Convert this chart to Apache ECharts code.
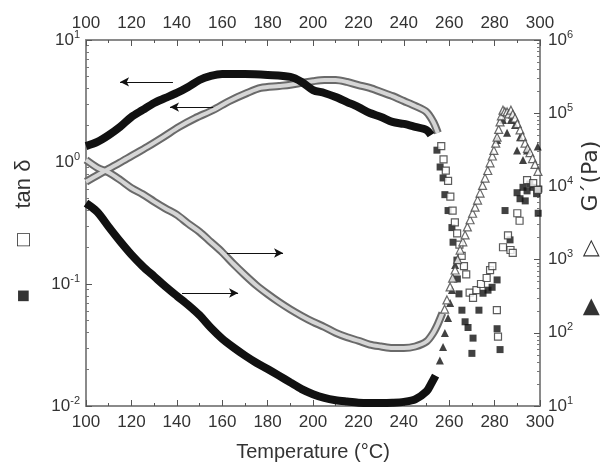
<!DOCTYPE html>
<html>
<head>
<meta charset="UTF-8">
<title>tan delta and G' vs temperature</title>
<script src="https://cdn.jsdelivr.net/npm/echarts@6/dist/echarts.min.js"></script>
</head>
<body style="margin:0">
<div id="main" style="width:600px;height:471px;"></div>
<script type="text/javascript">
// x ticks (temperature, degC)
var xTicks = [100, 120, 140, 160, 180, 200, 220, 240, 260, 280, 300];

// tan delta, filled squares: dense part (drawn as a thick band)
var tanFilledCurve = [
  [100, 1.35], [105, 1.46], [110, 1.66], [115, 1.94], [120, 2.34], [125, 2.67],
  [130, 3.05], [135, 3.35], [140, 3.68], [145, 4.12], [150, 4.7], [155, 5.07],
  [160, 5.26], [170, 5.26], [180, 5.17], [190, 4.98], [195, 4.53], [200, 3.89],
  [205, 3.68], [210, 3.41], [215, 3.10], [220, 2.82], [225, 2.52], [230, 2.34],
  [235, 2.13], [240, 2.05], [245, 1.94], [250, 1.83], [252, 1.66]
];
// tan delta, filled squares: scattered part
var tanFilledPts = [
  [254.6, 1.25], [256, 0.91], [257.3, 0.74], [258.1, 0.54], [259.5, 0.40], [261.2, 0.29],
  [261.7, 0.22], [263.4, 0.157], [263.6, 0.11], [264.3, 0.083], [265.6, 0.061], [267, 0.049],
  [268.3, 0.044], [270.5, 0.036], [270, 0.027], [273.1, 0.061], [274.9, 0.084], [277.1, 0.089],
  [278.9, 0.094], [281.1, 0.108], [281.1, 0.043], [282.4, 0.029], [284.6, 0.40], [286.8, 0.23],
  [289.9, 0.56], [291.2, 0.50], [292.5, 0.62], [294.3, 0.58], [295.5, 0.66], [296.9, 0.62],
  [298.5, 0.55], [299.5, 0.60], [299.2, 0.38], [293.5, 0.48]
];
// tan delta, open squares: dense part
var tanOpenCurve = [
  [100, 0.69], [105, 0.78], [110, 0.88], [115, 0.99], [120, 1.12], [127, 1.33],
  [134, 1.60], [141, 1.94], [148, 2.28], [156, 2.67], [163, 3.15], [171, 3.68],
  [177, 4.05], [185, 4.2], [190, 4.3], [195, 4.45], [200, 4.6], [205, 4.7],
  [210, 4.7], [215, 4.53], [220, 4.27], [225, 4.05], [230, 3.75], [235, 3.47],
  [240, 3.16], [245, 2.88], [250, 2.57], [253, 2.13], [255, 1.73]
];
// tan delta, open squares: scattered part
var tanOpenPts = [
  [256.5, 1.35], [257.5, 1.05], [258.5, 0.85], [259.5, 0.70], [260.5, 0.52], [261.5, 0.40],
  [262.5, 0.32], [263.5, 0.26], [264.5, 0.21], [265.5, 0.17], [266.5, 0.14], [267.5, 0.12],
  [269, 0.085], [270.5, 0.077], [272, 0.089], [274, 0.10], [276.5, 0.112], [278, 0.13],
  [279, 0.14], [281, 0.061], [281.5, 0.037], [283.7, 0.20], [285.9, 0.25], [287, 0.19],
  [288, 0.18], [290, 0.38], [291, 0.33], [294.3, 0.71], [297, 0.67], [299, 0.59]
];

// G' (Pa), open triangles: dense part
var gOpenCurve = [
  [100, 23000], [105, 18000], [110, 15500], [115, 12300], [120, 9500], [125, 7800],
  [130, 6200], [135, 5000], [140, 4100], [145, 3100], [150, 2400], [155, 1740],
  [160, 1260], [165, 870], [170, 617], [175, 447], [180, 339], [185, 263],
  [190, 209], [195, 170], [200, 141], [205, 120], [210, 100], [215, 87],
  [220, 78], [225, 69], [230, 65], [235, 62], [240, 62], [245, 65],
  [250, 76], [253, 100], [255, 132], [257, 186]
];
// G' (Pa), open triangles: scattered part
var gOpenPts = [
  [258, 210], [259, 281], [260.4, 423], [261.5, 560], [262.6, 721], [263.7, 1000],
  [264.8, 1350], [266, 1750], [267, 2170], [268, 2800], [269.2, 3500], [270.3, 4300],
  [271.4, 5200], [272.5, 6500], [273.6, 8100], [274.7, 10300], [275.8, 13000], [277, 16500],
  [278, 21000], [279, 26000], [279.7, 31000], [280.5, 39000], [281.1, 47000], [281.8, 60000],
  [282.4, 76000], [283, 92000], [283.7, 110000], [284.5, 105000], [285.5, 104000], [286.3, 98000],
  [287.2, 110000], [288, 97000], [289, 86000], [290, 72000], [291.2, 59000], [292.3, 48000],
  [293.4, 39000], [294.5, 33000], [295.6, 29000], [296.7, 24000], [297.8, 20000], [299.1, 16000]
];
// G' (Pa), filled triangles: dense part
var gFilledCurve = [
  [100, 5900], [105, 4470], [110, 2800], [115, 1780], [120, 1170], [125, 810],
  [130, 590], [135, 430], [140, 320], [145, 240], [150, 174], [155, 117],
  [160, 83], [165, 63], [170, 49], [175, 39], [180, 32], [185, 26],
  [190, 21], [195, 17], [200, 14.5], [205, 12.9], [210, 12], [215, 11.5],
  [220, 11.1], [225, 11], [230, 11], [235, 11.1], [240, 11.4], [245, 12.3],
  [250, 15.8], [252, 20], [254, 26]
];
// G' (Pa), filled triangles: scattered part
var gFilledPts = [
  [255.9, 42], [257.3, 64], [258.1, 99], [259.5, 159], [260.4, 255], [261.2, 385],
  [261.7, 561], [262.6, 843], [281.1, 43000], [283.7, 81000], [285.5, 54000], [287.2, 81000],
  [289, 69000], [289.9, 31000], [291.2, 47000], [292.5, 23000], [294.3, 31000], [299, 35000]
];

// annotation arrows [from, to], in data units of their own axis
var tanArrows = [[[138.3, 4.53], [115, 4.53]], [[156, 2.82], [137, 2.82]]];
var gArrows = [[[162.1, 1230], [186.8, 1230]], [[142.3, 350], [167, 350]]];

var myChart = echarts.init(document.getElementById('main'));

var txt = '#333';
var lineCol = '#8a8a8a';

function powLabel(v) {
  var e = Math.round(Math.log10(v));
  return '10{s|' + e + '}';
}
var supRich = { s: { fontSize: 11, padding: [0, 0, 11, 0], color: txt, fontFamily: 'Liberation Sans' } };

function arrowData(list) {
  return list.map(function (a) {
    return [{ coord: a[0] }, { coord: a[1] }];
  });
}
var arrowMark = function (list) {
  return {
    silent: true,
    symbol: ['none', 'arrow'],
    symbolSize: [7, 9],
    label: { show: false },
    lineStyle: { color: '#111', width: 1, type: 'solid' },
    emphasis: { disabled: true },
    animation: false,
    data: arrowData(list)
  };
};

var xBase = {
  type: 'value', min: 100, max: 300, interval: 20,
  axisLine: { lineStyle: { color: lineCol, width: 2 } },
  axisTick: { inside: true, length: 6, lineStyle: { color: '#555' } },
  minorTick: { show: true, splitNumber: 2, length: 3, lineStyle: { color: '#555' } },
  splitLine: { show: false },
  axisLabel: { color: txt, fontSize: 17, fontFamily: 'Liberation Sans', margin: 8 }
};

option = {
  animation: false,
  grid: { left: 86, right: 60, top: 40, bottom: 65, containLabel: false, outerBoundsMode: 'none' },
  xAxis: [
    echarts.util.merge({
      position: 'bottom',
      name: 'Temperature (\u00b0C)', nameLocation: 'middle', nameGap: 36,
      nameTextStyle: { color: txt, fontSize: 20, fontFamily: 'Liberation Sans' }
    }, xBase),
    echarts.util.merge({ position: 'top' }, xBase)
  ],
  yAxis: [
    {
      type: 'log', logBase: 10, min: 0.01, max: 10, position: 'left',
      name: '\u25a0       \u25a1    tan \u03b4', nameLocation: 'middle', nameGap: 51,
      nameTextStyle: { color: txt, fontSize: 22, fontFamily: 'Liberation Sans', padding: [0, 16, 0, 0] },
      axisLine: { show: true, lineStyle: { color: lineCol, width: 2 } },
      axisTick: { inside: true, length: 6, lineStyle: { color: '#555' } },
      minorTick: { show: true, splitNumber: 9, length: 3, lineStyle: { color: '#777' } },
      splitLine: { show: false },
      axisLabel: { formatter: powLabel, rich: supRich, color: txt, fontSize: 17, fontFamily: 'Liberation Sans', margin: 6 }
    },
    {
      type: 'log', logBase: 10, min: 10, max: 1000000, position: 'right',
      name: '\u25b6      \u25b7    G\u00b4(Pa)', nameLocation: 'middle', nameGap: 40, nameRotate: 90,
      nameMoveOverlap: false,
      nameTextStyle: { color: txt, fontSize: 22, fontFamily: 'DejaVu Sans', padding: [0, 10, 0, 0] },
      axisLine: { show: true, lineStyle: { color: lineCol, width: 2 } },
      axisTick: { inside: true, length: 6, lineStyle: { color: '#555' } },
      minorTick: { show: true, splitNumber: 9, length: 3, lineStyle: { color: '#777' } },
      splitLine: { show: false },
      axisLabel: { formatter: powLabel, rich: supRich, color: txt, fontSize: 17, fontFamily: 'Liberation Sans', margin: 8 }
    }
  ],
  series: [
    // G' open triangles band (edge + light core)
    { type: 'line', yAxisIndex: 1, data: gOpenCurve, smooth: 0.3, showSymbol: false, silent: true,
      lineStyle: { color: '#6a6a6a', width: 8 }, z: 2,
      markLine: arrowMark(gArrows) },
    { type: 'line', yAxisIndex: 1, data: gOpenCurve, smooth: 0.3, showSymbol: false, silent: true,
      lineStyle: { color: '#d6d6d6', width: 4 }, z: 3 },
    // tan delta open squares band
    { type: 'line', yAxisIndex: 0, data: tanOpenCurve, smooth: 0.3, showSymbol: false, silent: true,
      lineStyle: { color: '#6a6a6a', width: 8 }, z: 2,
      markLine: arrowMark(tanArrows) },
    { type: 'line', yAxisIndex: 0, data: tanOpenCurve, smooth: 0.3, showSymbol: false, silent: true,
      lineStyle: { color: '#d6d6d6', width: 4 }, z: 3 },
    // filled bands
    { type: 'line', yAxisIndex: 1, data: gFilledCurve, smooth: 0.3, showSymbol: false, silent: true,
      lineStyle: { color: '#111', width: 8 }, z: 4 },
    { type: 'line', yAxisIndex: 0, data: tanFilledCurve, smooth: 0.3, showSymbol: false, silent: true,
      lineStyle: { color: '#111', width: 8 }, z: 4 },
    // scattered markers
    { type: 'scatter', yAxisIndex: 0, data: tanFilledPts, symbol: 'rect', symbolSize: 7,
      itemStyle: { color: '#111' }, z: 5 },
    { type: 'scatter', yAxisIndex: 1, data: gFilledPts, symbol: 'triangle', symbolSize: 8,
      itemStyle: { color: '#111' }, z: 5 },
    { type: 'scatter', yAxisIndex: 0, data: tanOpenPts, symbol: 'rect', symbolSize: 7,
      itemStyle: { color: '#fff', borderColor: '#333', borderWidth: 1.2 }, z: 6 },
    { type: 'scatter', yAxisIndex: 1, data: gOpenPts, symbol: 'triangle', symbolSize: 8,
      itemStyle: { color: '#fff', borderColor: '#444', borderWidth: 1.2 }, z: 6 }
  ]
};
myChart.setOption(option);
</script>
</body>
</html>
